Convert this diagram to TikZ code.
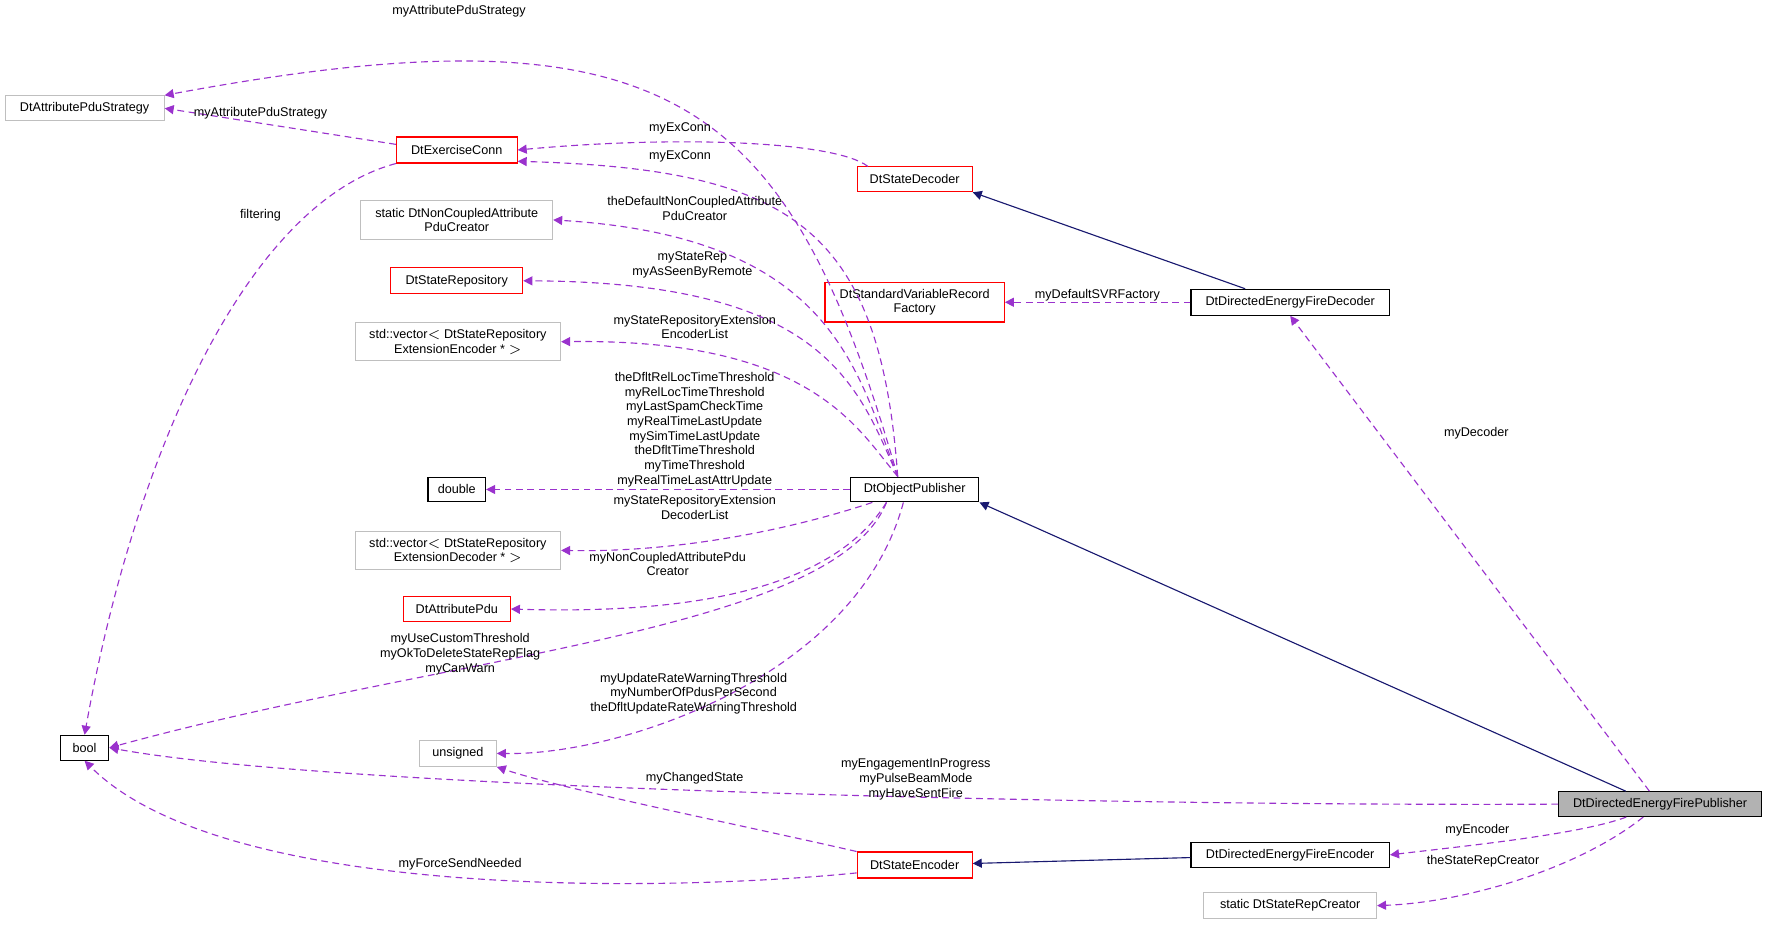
\documentclass[tikz,border=0pt]{standalone}
\usepackage{fontspec}
\setmainfont{Liberation Sans}
\usetikzlibrary{arrows.meta,positioning}
\definecolor{dep}{HTML}{9A32CD}
\definecolor{inh}{HTML}{191970}
\tikzset{
  cls/.style={draw,rectangle,inner sep=0pt,align=center,font=\fontsize{5.6}{6.5}\selectfont,fill=white,line width=0.5pt},
  plain/.style={cls,draw=black!25},
  red/.style={cls,draw=red},
  blk/.style={cls,draw=black},
  uses/.style={draw=dep,dashed,dash pattern=on 3pt off 2pt,-{Triangle[length=4pt,width=4pt]},line width=0.5pt},
  isa/.style={draw=inh,-{Triangle[length=4pt,width=4pt,open,fill=inh]},line width=0.5pt},
  lbl/.style={font=\fontsize{5.6}{6.5}\selectfont,align=center,inner sep=0pt}
}
\begin{document}
\begin{tikzpicture}[x=0.5pt,y=-0.5pt]
	\useasboundingbox (0,0) rectangle (1565,820);
	\node[plain,minimum width=70.5pt,minimum height=11pt] (strat)  at (75,96)   {DtAttributePduStrategy};
	\node[red,  minimum width=53.5pt,minimum height=11.5pt] (exconn) at (405,133) {DtExerciseConn};
	\node[plain,minimum width=85pt,minimum height=17pt] (ncpc)   at (405,195) {static DtNonCoupledAttribute\\PduCreator};
	\node[red,  minimum width=58.5pt,minimum height=11.5pt] (repo)   at (405,249) {DtStateRepository};
	\node[plain,minimum width=91pt,minimum height=17pt] (vecenc) at (406,303) {std::vector$<$ DtStateRepository\\ExtensionEncoder * $>$};
	\node[blk,  minimum width=25.5pt,minimum height=11pt] (dbl)    at (405,434) {double};
	\node[plain,minimum width=91pt,minimum height=17pt] (vecdec) at (406,488) {std::vector$<$ DtStateRepository\\ExtensionDecoder * $>$};
	\node[red,  minimum width=47.5pt,minimum height=11pt] (apdu)   at (405,540) {DtAttributePdu};
	\node[blk,  minimum width=21.5pt,minimum height=11pt] (bool)   at (75,663)  {bool};
	\node[plain,minimum width=34pt,minimum height=11.5pt] (uns)    at (406,668) {unsigned};
	\node[blk,  minimum width=57pt,minimum height=11pt] (objpub) at (811,434) {DtObjectPublisher};
	\node[red,  minimum width=51pt,minimum height=11pt] (sdec)   at (811,159) {DtStateDecoder};
	\node[red,  minimum width=79.5pt,minimum height=17.5pt] (svrf)   at (811,268) {DtStandardVariableRecord\\Factory};
	\node[red,  minimum width=51pt,minimum height=11.5pt] (senc)   at (811,767) {DtStateEncoder};
	\node[blk,  minimum width=88pt,minimum height=11.5pt] (fdec)   at (1144,268) {DtDirectedEnergyFireDecoder};
	\node[blk,  minimum width=88pt,minimum height=11pt] (fenc)   at (1144,758) {DtDirectedEnergyFireEncoder};
	\node[plain,minimum width=76.5pt,minimum height=11.5pt] (rcre)   at (1144,803) {static DtStateRepCreator};
	\node[blk,fill=black!30,minimum width=90pt,minimum height=11pt] (pub) at (1472,713) {DtDirectedEnergyFirePublisher};

	% inheritance
	\draw[isa] (pub.north west) ++(60,0) coordinate (p1) (p1) -- (objpub.south east);
	\draw[isa] (fdec.north) ++(-40,0) coordinate (d1) (d1) -- (sdec.south east);
	\draw[isa] (fenc) -- (senc);

	% usage
	\draw[uses] (objpub.north) ++(-15,0) coordinate (o1) (o1) .. controls (700,90) and (600,0) .. (strat.north east);
	\node[lbl] at (407,10) {myAttributePduStrategy};
	\draw[uses] (exconn.west) ++(0,-5) coordinate (e1) (e1) -- (strat.east);
	\node[lbl] at (231,100) {myAttributePduStrategy};
	\draw[uses] (sdec.north west) ++(10,0) coordinate (s1) (s1) .. controls (740,125) and (600,120) .. (exconn.east);
	\node[lbl] at (603,114) {myExConn};
	\draw[uses] (o1) .. controls (780,200) and (700,150) .. ([yshift=-5]exconn.east);
	\node[lbl] at (603,139) {myExConn};
	\draw[uses] (exconn.south west) .. controls (220,180) and (120,400) .. (bool.north);
	\node[lbl] at (231,191) {filtering};
	\draw[uses] (o1) .. controls (760,330) and (740,210) .. (ncpc.east);
	\node[lbl] at (616,185) {theDefaultNonCoupledAttribute\\PduCreator};
	\draw[uses] (o1) .. controls (760,340) and (730,250) .. (repo.east);
	\node[lbl] at (614,235) {myStateRep\\myAsSeenByRemote};
	\draw[uses] (o1) .. controls (760,380) and (720,300) .. (vecenc.east);
	\node[lbl] at (616,290) {myStateRepositoryExtension\\EncoderList};
	\draw[uses] (objpub) -- (dbl);
	\node[lbl] at (616,381) {theDfltRelLocTimeThreshold\\myRelLocTimeThreshold\\myLastSpamCheckTime\\myRealTimeLastUpdate\\mySimTimeLastUpdate\\theDfltTimeThreshold\\myTimeThreshold\\myRealTimeLastAttrUpdate};
	\draw[uses] (objpub.south west) ++(20,0) coordinate (o2) (o2) .. controls (700,470) and (600,490) .. (vecdec.east);
	\node[lbl] at (616,450) {myStateRepositoryExtension\\DecoderList};
	\draw[uses] (objpub.south) ++(-25,0) coordinate (o3) (o3) .. controls (740,520) and (620,545) .. (apdu.east);
	\node[lbl] at (592,500) {myNonCoupledAttributePdu\\Creator};
	\draw[uses] (o3) .. controls (740,560) and (400,580) .. (bool.east);
	\node[lbl] at (408,580) {myUseCustomThreshold\\myOkToDeleteStateRepFlag\\myCanWarn};
	\draw[uses] (objpub.south) ++(-10,0) coordinate (o4) (o4) .. controls (760,600) and (550,670) .. (uns.east);
	\node[lbl] at (615,615) {myUpdateRateWarningThreshold\\myNumberOfPdusPerSecond\\theDfltUpdateRateWarningThreshold};
	\draw[uses] (senc.north west) .. controls (650,730) and (500,700) .. (uns.south east);
	\node[lbl] at (616,690) {myChangedState};
	\draw[uses] (senc.west) ++(0,7) coordinate (s2) (s2) .. controls (600,790) and (200,800) .. (bool.south);
	\node[lbl] at (408,766) {myForceSendNeeded};
	\draw[uses] (pub.west) .. controls (1000,715) and (300,700) .. (bool.east);
	\node[lbl] at (812,691) {myEngagementInProgress\\myPulseBeamMode\\myHaveSentFire};
	\draw[uses] (pub.south) ++(-30,0) coordinate (p2) (p2) .. controls (1400,740) and (1300,750) .. (fenc.east);
	\node[lbl] at (1310,736) {myEncoder};
	\draw[uses] (pub.south) ++(-15,0) coordinate (p3) (p3) .. controls (1400,770) and (1300,800) .. (rcre.east);
	\node[lbl] at (1315,764) {theStateRepCreator};
	\draw[uses] (pub.north east) ++(-100,0) coordinate (p4) (p4) -- (fdec.south);
	\node[lbl] at (1309,384) {myDecoder};
	\draw[uses] (fdec.west) -- (svrf.east);
	\node[lbl] at (973,262) {myDefaultSVRFactory};
\end{tikzpicture}
\end{document}
